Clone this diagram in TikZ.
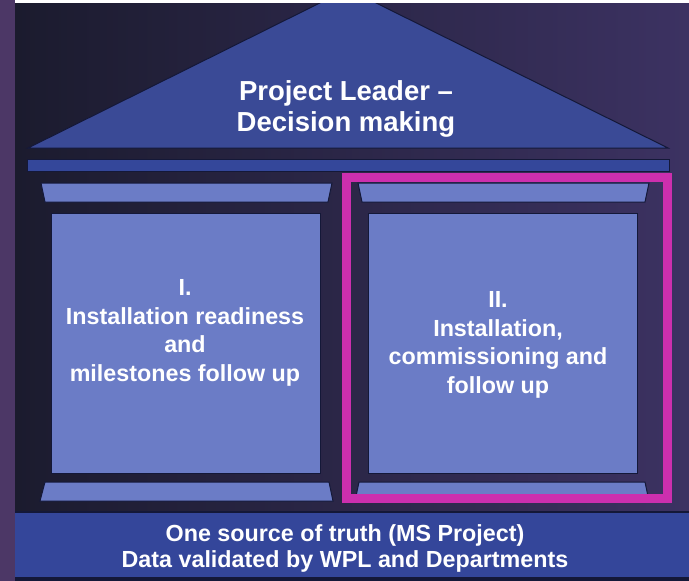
\documentclass[tikz,border=0pt]{standalone}
\usepackage{fontspec}
\setmainfont{Liberation Sans}
\definecolor{bgL}{RGB}{27,27,46}
\definecolor{bgR}{RGB}{60,50,98}
\definecolor{stripC}{RGB}{76,55,102}
\definecolor{roofC}{RGB}{58,74,150}
\definecolor{beamC}{RGB}{52,71,154}
\definecolor{colC}{RGB}{107,124,198}
\definecolor{edgeC}{RGB}{20,24,56}
\definecolor{magC}{RGB}{204,47,174}
\definecolor{bandC}{RGB}{52,70,154}
\tikzset{
  part/.style={fill=#1, draw=edgeC, line width=1pt},
  label/.style={text=white, font=\bfseries, align=center, inner sep=0pt},
}
\begin{document}
\begin{tikzpicture}[x=1pt,y=-1pt]
\useasboundingbox (0,0) rectangle (689,581);
% background
\shade[left color=bgL, right color=bgR] (15,3) rectangle (689,581);
\fill[stripC] (0,0) rectangle (15,581);
% roof
\draw[part=roofC] (28,148) -- (348,-11) -- (668,148) -- cycle;
\fill[white] (15,0) rectangle (689,3);
% beam
\draw[part=beamC] (27,159) rectangle (669,171);
% left column
\draw[part=colC] (41,183) -- (332,183) -- (328,202) -- (45,202) -- cycle;
\draw[part=colC] (51,213) rectangle (320,473);
\draw[part=colC] (45,482) -- (329,482) -- (333,501) -- (40,501) -- cycle;
% right column
\draw[part=colC] (358,183) -- (649,183) -- (645,202) -- (362,202) -- cycle;
\draw[part=colC] (368,213) rectangle (637,473);
\draw[part=colC] (359,482) -- (645,482) -- (649,501) -- (355,501) -- cycle;
% highlight frame
\draw[magC, line width=9pt] (346.5,177.5) rectangle (667.5,498.5);
% bottom band
\fill[edgeC] (15,511) rectangle (689,581);
\fill[bandC] (15,513) rectangle (689,577);
% texts
\node[label, font=\bfseries\fontsize{27.5}{31.5}\selectfont] (title) at (346,109) {Project Leader --\\Decision making};
\node[label, font=\bfseries\fontsize{23.3}{28.7}\selectfont] (leftText) at (185,333) {I.\\Installation readiness\\and\\milestones follow up};
\node[label, font=\bfseries\fontsize{23.3}{28.7}\selectfont] (rightText) at (498,345) {II.\\Installation,\\commissioning and\\follow up};
\node[label, font=\bfseries\fontsize{23.3}{26}\selectfont] (bottomText) at (345,548) {One source of truth (MS Project)\\Data validated by WPL and Departments};
\end{tikzpicture}
\end{document}
